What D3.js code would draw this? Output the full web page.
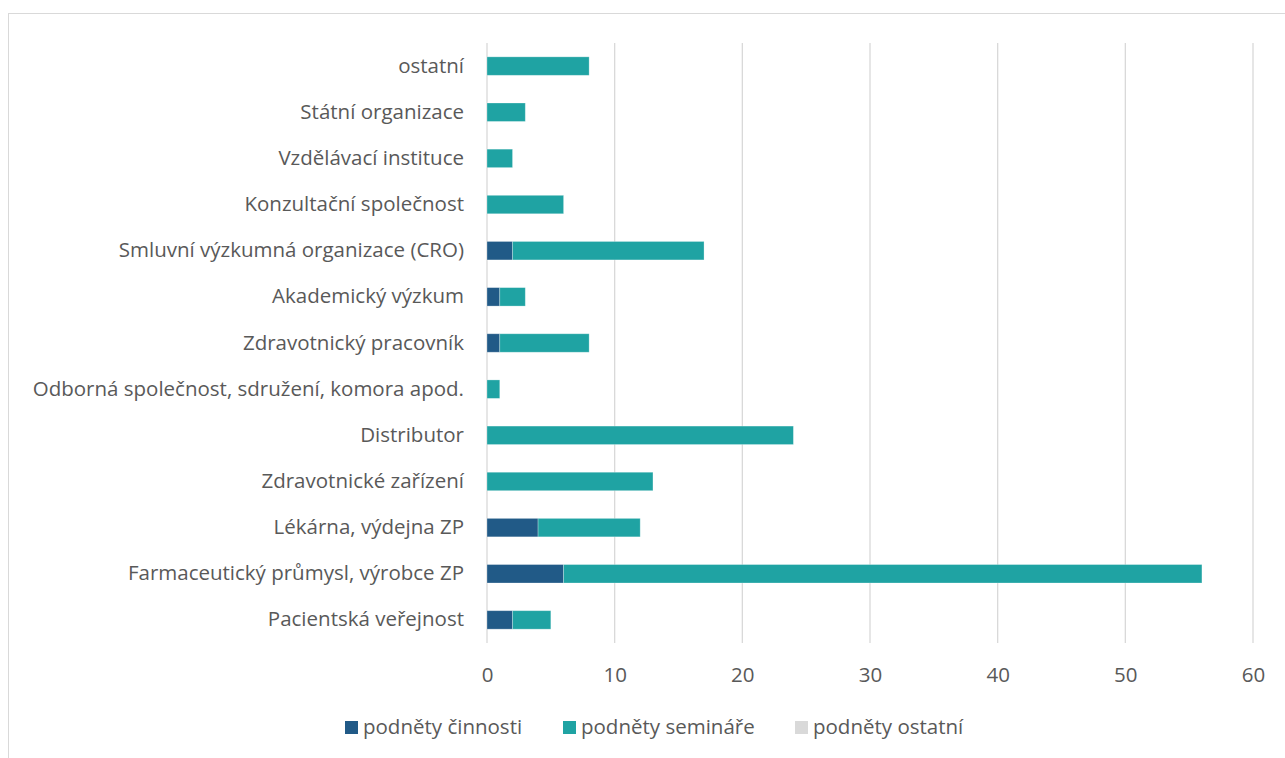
<!DOCTYPE html>
<html><head><meta charset="utf-8">
<script src="https://cdn.jsdelivr.net/npm/d3@7"></script>
<style>body{margin:0;background:#fff;} svg{display:block;}</style>
</head><body>
<svg id="c" width="1285" height="758"></svg>
<script>
const categories = ["ostatní","Státní organizace","Vzdělávací instituce","Konzultační společnost","Smluvní výzkumná organizace (CRO)","Akademický výzkum","Zdravotnický pracovník","Odborná společnost, sdružení, komora apod.","Distributor","Zdravotnické zařízení","Lékárna, výdejna ZP","Farmaceutický průmysl, výrobce ZP","Pacientská veřejnost"];
const podnetyCinnosti = [0,0,0,0,2,1,1,0,0,0,4,6,2];
const podnetySeminare = [8,3,2,6,15,2,7,1,24,13,8,50,3];
const podnetyOstatni = [0,0,0,0,0,0,0,0,0,0,0,0,0];
const seriesNames = ["podněty činnosti","podněty semináře","podněty ostatní"];
const seriesColors = ["#215a87","#1fa3a3","#d9d9d9"];
const xTicks = [0,10,20,30,40,50,60];

const svg = d3.select("#c");
const font = "'Open Sans', sans-serif";
const textColor = "#595959";
svg.append("rect").attr("x",8.5).attr("y",13.5).attr("width",1290).attr("height",760)
  .attr("fill","#fff").attr("stroke","#d9d9d9").attr("stroke-width",1);

const m = {left:487, right:1253, top:43, bottom:643};
const x = d3.scaleLinear().domain([0,60]).range([m.left,m.right]);
const y = d3.scaleBand().domain(categories).range([m.top,m.bottom]).paddingInner(0.6).paddingOuter(0.3);

// grid
svg.append("g").selectAll("line").data(xTicks).join("line")
  .attr("x1",d=>x(d)).attr("x2",d=>x(d)).attr("y1",m.top).attr("y2",m.bottom)
  .attr("stroke","#d9d9d9").attr("stroke-width",1.3);

const data = categories.map((c,i)=>({cat:c, s0:podnetyCinnosti[i], s1:podnetySeminare[i], s2:podnetyOstatni[i]}));
const stack = d3.stack().keys(["s0","s1","s2"])(data);
svg.append("g").selectAll("g").data(stack).join("g").attr("fill",(d,i)=>seriesColors[i])
  .selectAll("rect").data(d=>d.filter(p=>p[1]-p[0]>0)).join("rect")
  .attr("x",d=>x(d[0])).attr("width",d=>x(d[1])-x(d[0]))
  .attr("y",d=>y(d.data.cat)).attr("height",y.bandwidth())
  .attr("stroke","rgba(255,255,255,0.35)").attr("stroke-width",0.8);

// category labels
const ax = d3.axisLeft(y).tickSize(0).tickPadding(23);
const gy = svg.append("g").attr("transform",`translate(${m.left},0)`).call(ax);
gy.select(".domain").remove();
gy.selectAll("text").attr("font-family",font).attr("font-size",20.5).attr("fill",textColor);

const axb = d3.axisBottom(x).tickValues(xTicks).tickSize(0).tickPadding(24);
const gx = svg.append("g").attr("transform",`translate(0,${m.bottom})`).call(axb);
gx.select(".domain").remove();
gx.selectAll("text").attr("font-family",font).attr("font-size",20.5).attr("fill",textColor);

// legend
const legX = [345,563,795];
const lg = svg.append("g").selectAll("g").data(seriesNames).join("g")
  .attr("transform",(d,i)=>`translate(${legX[i]},727)`);
lg.append("rect").attr("x",0).attr("y",-6).attr("width",13).attr("height",13).attr("fill",(d,i)=>seriesColors[i]);
lg.append("text").attr("x",18).attr("y",0).attr("dy","0.35em").text(d=>d)
  .attr("font-family",font).attr("font-size",20.5).attr("fill",textColor);
</script>
</body></html>
